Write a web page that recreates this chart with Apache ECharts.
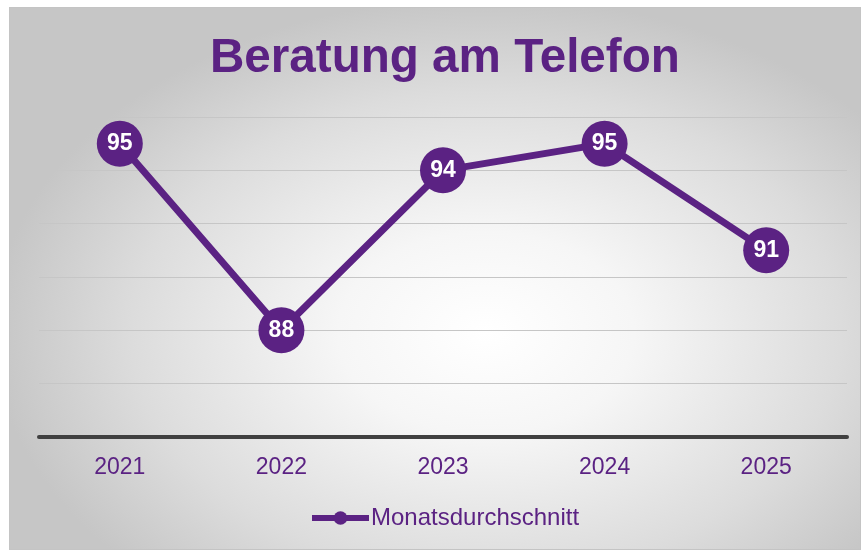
<!DOCTYPE html>
<html>
<head>
<meta charset="utf-8">
<script src="https://cdn.jsdelivr.net/npm/echarts@6/dist/echarts.min.js"></script>
<style>
  html, body { margin: 0; padding: 0; background: #fff; }
  #frame {
    position: absolute; left: 9px; top: 7px; width: 850px; height: 541px;
    border: 1px solid #c4c4c4;
    background: radial-gradient(ellipse 58% 62% at 56% 60%, #ffffff 0%, #f6f6f6 30%, #dcdcdc 72%, #c6c6c6 100%);
  }
  #main { position: absolute; left: 0; top: 0; width: 863px; height: 550px; }
</style>
</head>
<body>
<div id="frame"></div>
<div id="main"></div>
<script>
const years = ["2021", "2022", "2023", "2024", "2025"];
const values = [95, 88, 94, 95, 91];
const seriesName = "Monatsdurchschnitt";
const purple = "#5b2283";

const chart = echarts.init(document.getElementById("main"));
chart.setOption({
  backgroundColor: "transparent",
  title: {
    text: "Beratung am Telefon",
    left: 205,
    top: 30,
    textStyle: {
      color: purple,
      fontFamily: "Liberation Sans, Arial, sans-serif",
      fontWeight: "bold",
      fontSize: 47.6,
    },
  },
  grid: { left: 39, right: 16, top: 117, bottom: 113 },
  legend: {
    data: [seriesName],
    top: 501,
    left: 304,
    itemWidth: 57,
    itemHeight: 17,
    itemGap: 4,
    lineStyle: { width: 6 },
    textStyle: {
      color: purple,
      fontSize: 24,
      padding: [0, 0, 0, -3],
      fontFamily: "Liberation Sans, Arial, sans-serif",
    },
  },
  xAxis: {
    type: "category",
    data: years,
    boundaryGap: true,
    axisLine: { lineStyle: { color: "#404040", width: 4 } },
    axisTick: { show: false },
    axisLabel: {
      color: purple,
      fontSize: 23,
      margin: 19,
      fontFamily: "Liberation Sans, Arial, sans-serif",
    },
  },
  yAxis: {
    type: "value",
    min: 84,
    max: 96,
    interval: 2,
    axisLabel: { show: false },
    axisLine: { show: false },
    axisTick: { show: false },
    splitLine: { lineStyle: { color: "#c6c6c6", width: 1 } },
  },
  series: [
    {
      name: seriesName,
      type: "line",
      data: values,
      symbol: "circle",
      symbolSize: 46,
      lineStyle: { color: purple, width: 7 },
      itemStyle: { color: purple },
      label: {
        show: true,
        position: "inside",
        color: "#fff",
        fontWeight: "bold",
        fontSize: 23,
        fontFamily: "Liberation Sans, Arial, sans-serif",
      },
      emphasis: { disabled: true },
    },
  ],
});
</script>
</body>
</html>
